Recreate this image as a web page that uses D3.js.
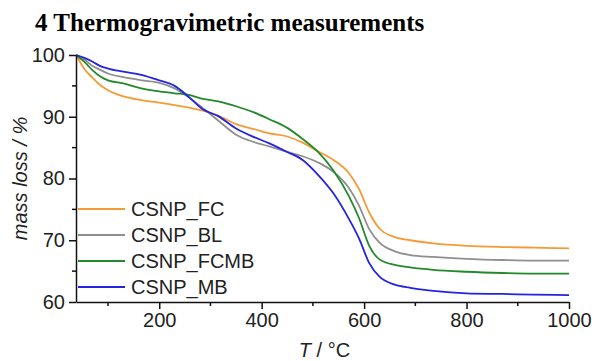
<!DOCTYPE html>
<html>
<head>
<meta charset="utf-8">
<title>TGA</title>
<style>
  body { margin: 0; background: #fff; }
  svg { display: block; }
</style>
</head>
<body>
<div id="container"></div>
<script src="https://cdn.jsdelivr.net/npm/d3@7"></script>
<script>
// temperature grid (°C) shared by all curves
var temps = [38, 55, 70, 85, 100, 130, 165, 200, 230, 255, 285, 315, 350, 385, 415, 450, 480, 510, 540, 570, 590, 610, 630, 660, 690, 735, 800, 870, 930, 1000];

var fc   = [100, 97.6, 96.3, 95.1, 94.3, 93.3, 92.7, 92.3, 91.9, 91.5, 91.0, 90.2, 88.8, 88.0, 87.3, 86.8, 85.8, 84.4, 83.0, 80.9, 78.3, 74.5, 71.9, 70.5, 70.0, 69.5, 69.1, 68.9, 68.8, 68.7];
var bl   = [100, 99.2, 98.2, 97.6, 97.0, 96.4, 95.9, 95.5, 94.6, 93.3, 91.4, 89.4, 87.1, 85.9, 85.2, 84.3, 83.6, 82.6, 81.1, 78.5, 75.6, 71.8, 69.6, 68.2, 67.6, 67.3, 67.0, 66.8, 66.7, 66.7];
var fcmb = [100, 98.8, 97.5, 96.5, 95.9, 95.4, 94.6, 94.1, 93.8, 93.6, 92.9, 92.5, 91.7, 90.7, 89.6, 88.2, 86.4, 84.3, 81.3, 77.2, 73.6, 69.1, 66.9, 66.0, 65.6, 65.2, 64.9, 64.7, 64.6, 64.6];
var mb   = [100, 99.5, 98.9, 98.2, 97.8, 97.3, 96.8, 95.9, 95.0, 93.4, 91.2, 90.1, 88.1, 86.7, 85.7, 84.3, 83.0, 80.6, 77.6, 73.5, 70.3, 66.3, 64.1, 62.8, 62.3, 61.8, 61.4, 61.3, 61.2, 61.1];

var seriesNames = ["CSNP_FC", "CSNP_BL", "CSNP_FCMB", "CSNP_MB"];
var seriesColors = ["#f59a35", "#8f8f8f", "#23892a", "#2424e0"];

var xMajor = [200, 400, 600, 800, 1000];
var xMinor = [100, 300, 500, 700, 900];
var yMajor = [60, 70, 80, 90, 100];
var yMinor = [65, 75, 85, 95];

var W = 595, H = 361;
var margin = {top: 55, right: 26, bottom: 59, left: 76};
var width = W - margin.left - margin.right,
    height = H - margin.top - margin.bottom;

var svg = d3.select("#container").append("svg")
    .attr("width", W)
    .attr("height", H);

svg.append("text")
    .text("4 Thermogravimetric measurements")
    .attr("x", 35)
    .attr("y", 31)
    .style("font-family", "'Liberation Serif', 'Times New Roman', serif")
    .style("font-weight", "bold")
    .style("font-size", "25px")
    .attr("fill", "#000");

var xScale = d3.scaleLinear().domain([37.5, 1000]).range([0, width]);
var yScale = d3.scaleLinear().domain([60, 100]).range([height, 0]);

var g = svg.append("g")
    .attr("transform", "translate(" + margin.left + "," + margin.top + ")");

var line = d3.line()
    .x(function(d) { return xScale(d[0]); })
    .y(function(d) { return yScale(d[1]); })
    .curve(d3.curveMonotoneX);

var allSeries = [fc, bl, fcmb, mb];
allSeries.forEach(function(vals, i) {
  var pts = temps.map(function(t, k) { return [t, vals[k]]; });
  g.append("path")
    .datum(pts)
    .attr("d", line)
    .attr("fill", "none")
    .attr("stroke", seriesColors[i])
    .attr("stroke-width", 1.8)
    .attr("stroke-linejoin", "round");
});

// axes
var xAxis = d3.axisBottom(xScale).tickValues(xMajor).tickFormat(d3.format("d"))
    .tickSize(7).tickSizeOuter(0).tickPadding(4);
var yAxis = d3.axisLeft(yScale).tickValues(yMajor).tickFormat(d3.format("d"))
    .tickSize(7).tickSizeOuter(0).tickPadding(4);

var gx = g.append("g").attr("class", "ax")
    .attr("transform", "translate(0," + height + ")")
    .call(xAxis);
var gy = g.append("g").attr("class", "ax").call(yAxis);

gx.append("g").selectAll("line").data(xMinor).enter().append("line")
    .attr("x1", function(d) { return xScale(d); })
    .attr("x2", function(d) { return xScale(d); })
    .attr("y1", 0).attr("y2", 4);
gy.append("g").selectAll("line").data(yMinor).enter().append("line")
    .attr("y1", function(d) { return yScale(d); })
    .attr("y2", function(d) { return yScale(d); })
    .attr("x1", 0).attr("x2", -4);

d3.selectAll(".ax line, .ax .domain")
    .attr("stroke", "#111")
    .attr("stroke-width", 1.5);
d3.selectAll(".ax text")
    .attr("fill", "#222")
    .style("font-family", "'Liberation Sans', Arial, sans-serif")
    .style("font-size", "20px");

// axis titles
svg.append("text")
    .attr("transform", "translate(27," + (margin.top + height / 2) + ") rotate(-90)")
    .attr("text-anchor", "middle")
    .style("font-family", "'Liberation Sans', Arial, sans-serif")
    .style("font-size", "20px")
    .style("font-style", "italic")
    .attr("fill", "#222")
    .text("mass loss / %");

var xt = svg.append("text")
    .attr("x", margin.left + width / 2 + 2)
    .attr("y", 357)
    .attr("text-anchor", "middle")
    .style("font-family", "'Liberation Sans', Arial, sans-serif")
    .style("font-size", "20px")
    .attr("fill", "#222");
xt.append("tspan").style("font-style", "italic").text("T");
xt.append("tspan").text(" / °C");

// legend
var leg = g.append("g").attr("transform", "translate(2," + (209 - margin.top) + ")");
seriesNames.forEach(function(name, i) {
  var row = leg.append("g").attr("transform", "translate(0," + (i * 26) + ")");
  row.append("line")
    .attr("x1", 0).attr("x2", 47)
    .attr("y1", 0).attr("y2", 0)
    .attr("stroke", seriesColors[i])
    .attr("stroke-width", 1.8);
  row.append("text")
    .attr("x", 53)
    .attr("y", 0)
    .attr("dy", "0.36em")
    .style("font-family", "'Liberation Sans', Arial, sans-serif")
    .style("font-size", "20px")
    .attr("fill", "#222")
    .text(name);
});
</script>
</body>
</html>
